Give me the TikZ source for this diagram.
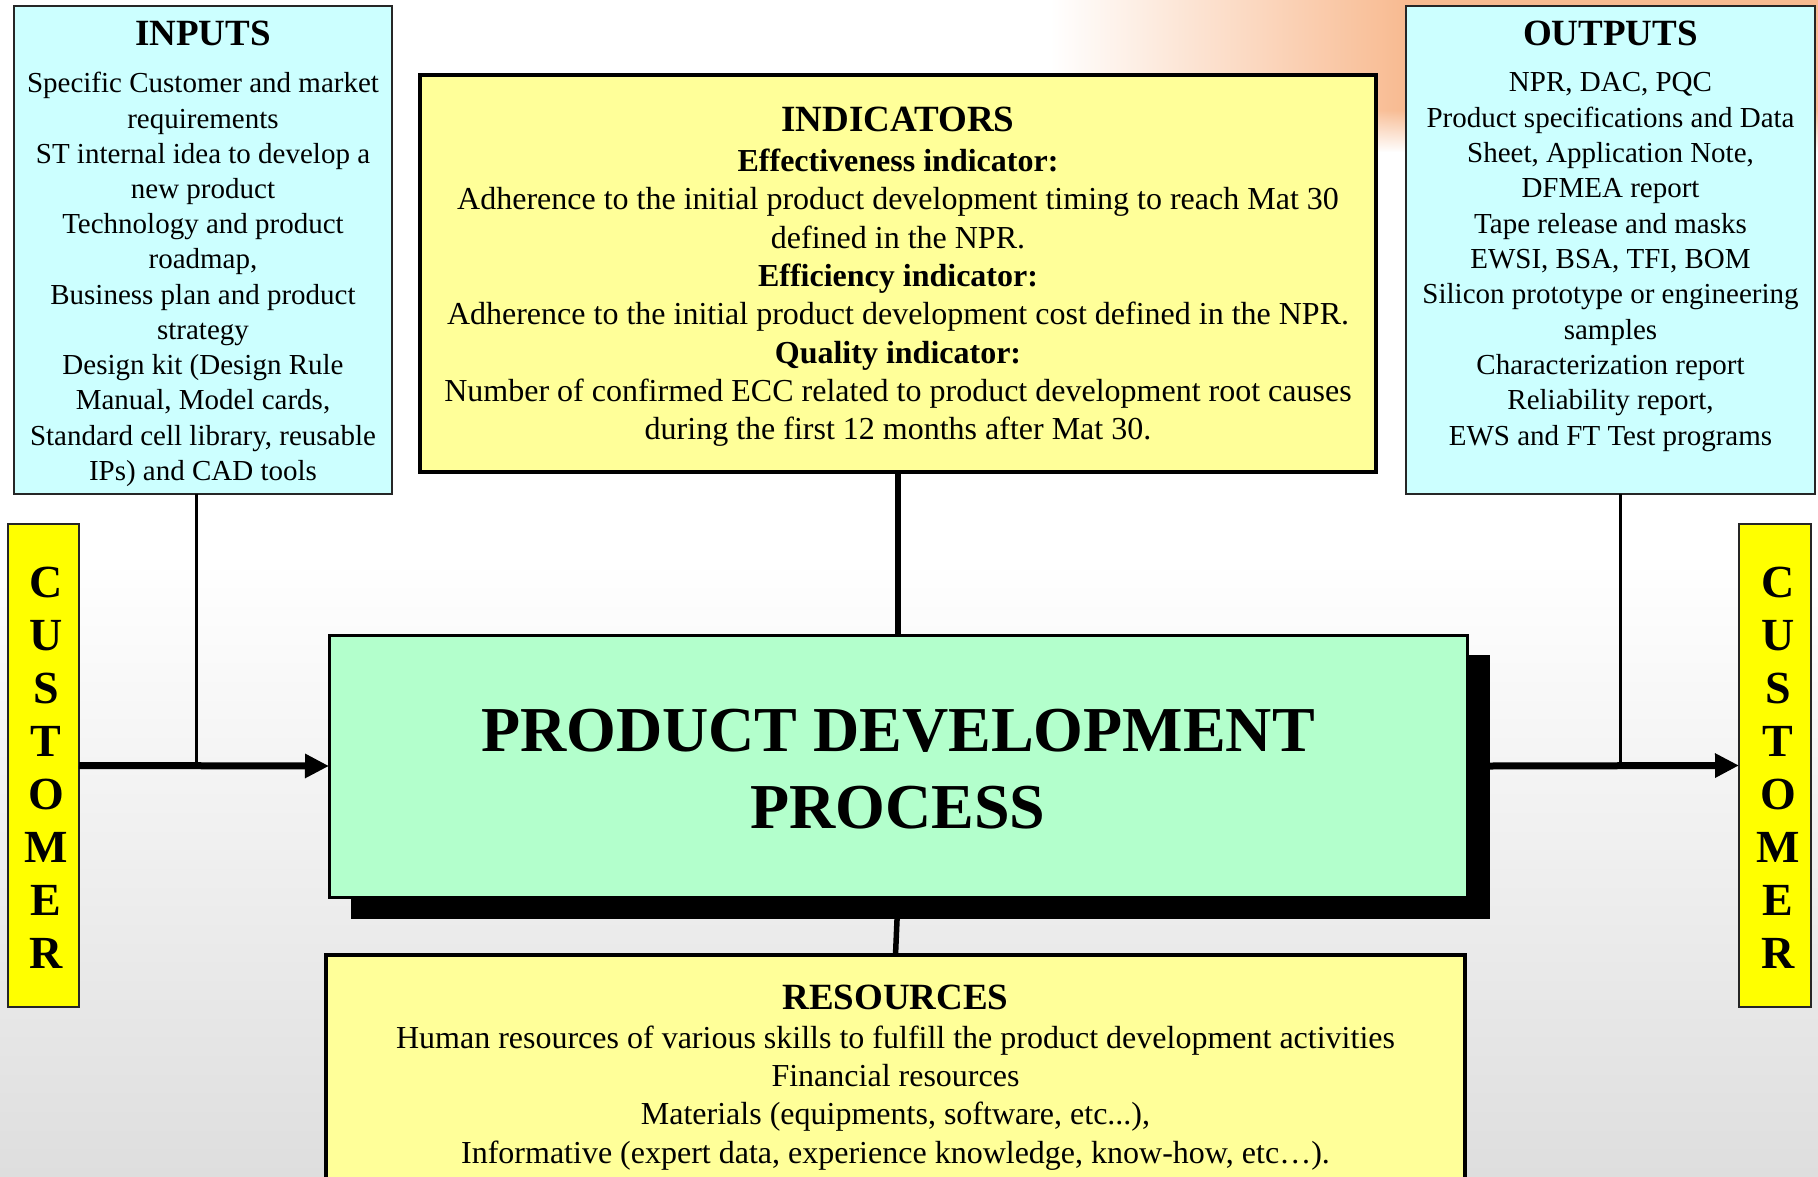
\documentclass[tikz,border=0pt]{standalone}
\usepackage{fontspec}
\setmainfont{Liberation Serif}
\usetikzlibrary{arrows.meta,fadings}
\definecolor{cyanfill}{HTML}{CCFFFF}
\definecolor{ylfill}{HTML}{FFFF99}
\definecolor{grfill}{HTML}{B3FFCC}
\definecolor{custfill}{HTML}{FFFF00}
\definecolor{glow}{HTML}{F8BA90}
\definecolor{bggray}{HTML}{DEDEDE}
\begin{document}
\begin{tikzpicture}[x=1pt,y=-1pt,
  cyanboxst/.style={draw=black!85,line width=1.5pt,fill=cyanfill,inner sep=0pt,outer sep=0pt},
  yboxst/.style={draw=black,line width=3.5pt,fill=ylfill,inner sep=0pt,outer sep=0pt},
  mainboxst/.style={draw=black,line width=3pt,fill=grfill,inner sep=0pt,outer sep=0pt},
  shadowst/.style={fill=black,inner sep=0pt,outer sep=0pt},
  custboxst/.style={draw=black!85,line width=1.5pt,fill=custfill,inner sep=0pt,outer sep=0pt},
  smalltxt/.style={anchor=base,inner sep=0pt,font=\fontsize{29}{35}\selectfont},
  midtxt/.style={anchor=base,inner sep=0pt,font=\fontsize{32}{38}\selectfont},
  midbold/.style={anchor=base,inner sep=0pt,font=\fontsize{32}{38}\selectfont\bfseries},
  titletxt/.style={anchor=base,inner sep=0pt,font=\fontsize{37}{44}\selectfont\bfseries},
  bigtxt/.style={anchor=base,inner sep=0pt,font=\fontsize{64}{76}\selectfont\bfseries},
  custtxt/.style={anchor=base,inner sep=0pt,font=\fontsize{46}{53}\selectfont\bfseries},
  thinline/.style={draw=black,line width=3pt},
  midline/.style={draw=black,line width=5.5pt},
  bigarrow/.style={draw=black,line width=7pt,-{Triangle[length=24pt,width=23pt]}}
]
\useasboundingbox (0,0) rectangle (1818,1177);
\clip (0,0) rectangle (1818,1177);
% background
\fill[white] (0,0) rectangle (1818,1177);
\shade[top color=white,bottom color=bggray] (0,560) rectangle (1818,1177);
\shade[left color=white,right color=glow] (1050,0) rectangle (1410,110);
\fill[glow] (1409,0) rectangle (1818,110);
\shade[left color=white,right color=glow,path fading=south] (1050,110) rectangle (1410,152);
\fill[glow,path fading=south] (1409,110) rectangle (1818,152);

% boxes (positions)
\node[cyanboxst,minimum width=378pt,minimum height=488pt] (inputs) at (203,250) {};
\node[cyanboxst,minimum width=409pt,minimum height=488pt] (outputs) at (1610.5,250) {};
\node[custboxst,minimum width=71pt,minimum height=483pt] (custL) at (43.5,765.5) {};
\node[custboxst,minimum width=72pt,minimum height=483pt] (custR) at (1775,765.5) {};

% connectors
\coordinate (injoin) at (196,766);
\coordinate (outjoin) at (1620,766);
\path[thinline] (inputs.south -| injoin) -- (injoin);
\path[thinline] (outputs.south -| outjoin) -- (outjoin);

\node[yboxst,minimum width=956pt,minimum height=397pt] (indic) at (898,273.5) {};
\node[yboxst,minimum width=1139pt,minimum height=260pt] (res) at (895.5,1085) {};
\node[mainboxst,minimum width=1138pt,minimum height=262pt,fill=none,draw=none] (mainpos) at (898,766) {};
\path[midline] (indic.south) -- (mainpos.north);
\path[midline] (mainpos.south) -- (res.north);
\node[shadowst,minimum width=1139pt,minimum height=264pt] (shadow) at (920.5,787) {};
\node[mainboxst,minimum width=1138pt,minimum height=262pt] (main) at (898,766) {};
\path[bigarrow] (custL.east) -- (main.west);
\path[bigarrow] (main.east -| shadow.east) -- (custR.west);

% INPUTS text
\node[titletxt] (intitle) at (203,46) {INPUTS};
\foreach \t [count=\i] in {{Specific Customer and market},{requirements},{ST internal idea to develop a},{new product},{Technology and product},{roadmap,},{Business plan and product},{strategy},{Design kit (Design Rule},{Manual, Model cards,},{Standard cell library, reusable},{IPs) and CAD tools}}
  \node[smalltxt] (inl\i) at (203,{93+35.2*(\i-1)}) {\t};

% OUTPUTS text
\node[titletxt] (outtitle) at (1610.5,46) {OUTPUTS};
\foreach \t [count=\i] in {{NPR, DAC, PQC},{Product specifications and Data},{Sheet, Application Note,},{DFMEA report},{Tape release and masks},{EWSI, BSA, TFI, BOM},{Silicon prototype or engineering},{samples},{Characterization report},{Reliability report,},{EWS and FT Test programs}}
  \node[smalltxt] (outl\i) at (1610.5,{92+35.3*(\i-1)}) {\t};

% INDICATORS text
\node[titletxt] (indtitle) at (898,132) {INDICATORS};
\node[midbold] (ind1) at (898,172) {Effectiveness indicator:};
\node[midtxt] (ind2) at (898,210) {Adherence to the initial product development timing to reach Mat 30};
\node[midtxt] (ind3) at (898,248) {defined in the NPR.};
\node[midbold] (ind4) at (898,286) {Efficiency indicator:};
\node[midtxt] (ind5) at (898,324.5) {Adherence to the initial product development cost defined in the NPR.};
\node[midbold] (ind6) at (898,363) {Quality indicator:};
\node[midtxt] (ind7) at (898,401) {Number of confirmed ECC related to product development root causes};
\node[midtxt] (ind8) at (898,439) {during the first 12 months after Mat 30.};

% MAIN text
\node[bigtxt] (main1) at (898,751) {PRODUCT DEVELOPMENT};
\node[bigtxt] (main2) at (898,828) {PROCESS};

% RESOURCES text
\node[titletxt] (restitle) at (895.5,1009) {RESOURCES};
\node[midtxt] (res1) at (895.5,1048) {Human resources of various skills to fulfill the product development activities};
\node[midtxt] (res2) at (895.5,1086) {Financial resources};
\node[midtxt] (res3) at (895.5,1124.5) {Materials (equipments, software, etc...),};
\node[midtxt] (res4) at (895.5,1163) {Informative (expert data, experience knowledge, know-how, etc…).};

% CUSTOMER letters
\foreach \c [count=\i] in {C,U,S,T,O,M,E,R}{
  \node[custtxt] (cl\i) at (46,{597+53*(\i-1)}) {\c};
  \node[custtxt] (cr\i) at (1778,{597+53*(\i-1)}) {\c};
}
\end{tikzpicture}
\end{document}
